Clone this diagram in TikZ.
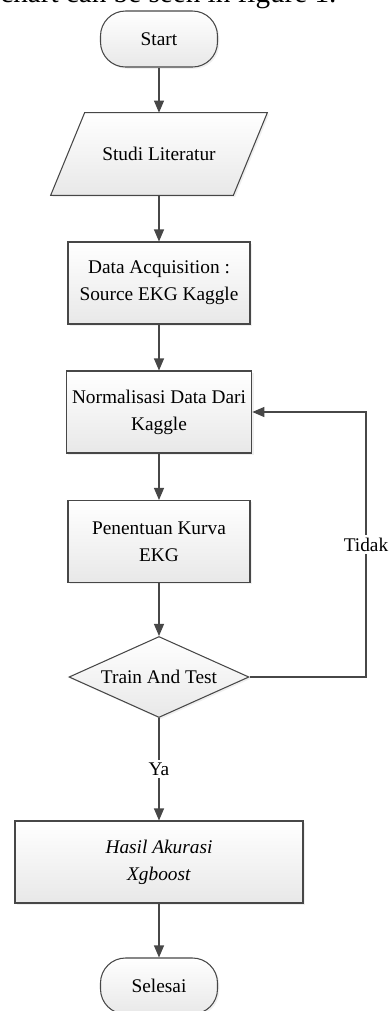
\documentclass[tikz,border=0pt]{standalone}
\usepackage{fontspec}
\setmainfont{Liberation Serif}
\usetikzlibrary{arrows.meta, shapes.geometric, shadows, backgrounds}

\begin{document}
\begin{tikzpicture}[
        font=\fontsize{11}{15.5}\selectfont,
        garis/.style={draw=black!72, line width=0.6pt},
        isian/.style={top color=white, bottom color=black!9,
            drop shadow={shadow xshift=0.035cm, shadow yshift=-0.035cm, fill=black!12, opacity=0.5}},
        terminal/.style={garis, isian, rectangle, rounded corners=0.5cm, minimum width=2.34cm, minimum height=1.12cm},
        proses/.style={garis, isian, rectangle, minimum width=3.64cm, minimum height=1.64cm, align=center},
        cabang/.style={garis, isian, diamond, aspect=2.2, inner sep=1pt, minimum width=3.6cm, minimum height=1.62cm},
        panah/.style={garis, -{Triangle[length=0.24cm, width=0.2cm]}},
        teksjalur/.style={fill=white, inner sep=1.5pt}
    ]
            \useasboundingbox (0,0) rectangle (7.82,-20.22);
            
            \node[anchor=base west, inner sep=0pt, font=\fontsize{16.6}{20}\selectfont] (kalimat) at (0,-0.05) {chart can be seen in figure 1.};
            
            \node[terminal] (mulai) at (3.18,-0.78) {Start};
            \node[minimum width=3.64cm, minimum height=1.64cm] (studi) at (3.18,-3.08) {Studi Literatur};
            \node[proses] (akuisisi) at (3.18,-5.66) {Data Acquisition :\\Source EKG Kaggle};
            \node[proses] (normalisasi) at (3.18,-8.24) {Normalisasi Data Dari\\Kaggle};
            \node[proses] (kurva) at (3.18,-10.83) {Penentuan Kurva\\EKG};
            \node[cabang] (uji) at (3.18,-13.54) {Train And Test};
            \node[proses, minimum width=5.76cm] (hasil) at (3.18,-17.24) {\textit{Hasil Akurasi}\\\textit{Xgboost}};
            \node[terminal] (selesai) at (3.18,-19.72) {Selesai};
            
            \begin{scope}[on background layer]
                \draw[garis, isian] ([xshift=-0.34cm]studi.south west) -- ([xshift=-0.34cm]studi.south east)
                    -- ([xshift=0.34cm]studi.north east) -- ([xshift=0.34cm]studi.north west) -- cycle;
            \end{scope}
            
            \foreach \dari/\ke in {mulai/studi, studi/akuisisi, akuisisi/normalisasi, normalisasi/kurva, kurva/uji, hasil/selesai} {
                \draw[panah] (\dari) -- (\ke);
            }
            
            \draw[panah] (uji) -- node[teksjalur] {Ya} (hasil);
            \coordinate (belok) at (7.32,-13.54);
            \draw[panah] (uji.east) -- (belok) |- node[teksjalur, pos=0.25] {Tidak} (normalisasi.east);
            
        \end{tikzpicture}
\end{document}
